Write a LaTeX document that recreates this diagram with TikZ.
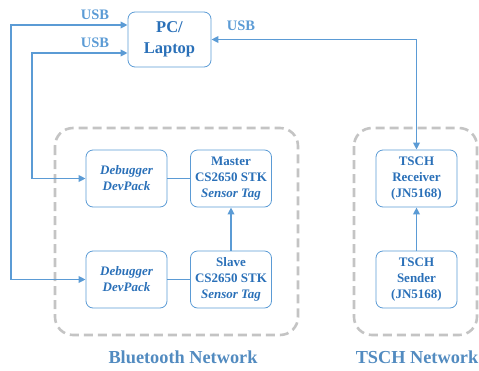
\documentclass[tikz,border=0pt]{standalone}
\usepackage{fontspec}
\setmainfont{Liberation Serif}
\usetikzlibrary{arrows.meta, positioning, calc}
\definecolor{lineblue}{HTML}{5B9BD5}
\definecolor{textblue}{HTML}{2A70B8}
\definecolor{dashgray}{HTML}{C4C4C4}

\tikzset{
  box/.style={draw=lineblue, line width=0.8pt, rounded corners=7pt, align=center,
    minimum width=81pt, minimum height=57pt, inner sep=1pt, text=textblue,
    font=\fontsize{13}{16}\selectfont\bfseries},
  link/.style={draw=lineblue, line width=1.8pt},
  usb/.style={link, {Triangle[length=7pt,width=6.5pt]}-{Triangle[length=7pt,width=6.5pt]}},
  uplink/.style={link, -{Triangle[length=7pt,width=6.5pt]}},
  usblbl/.style={text=lineblue, font=\fontsize{14.5}{16}\selectfont\bfseries},
  group/.style={draw=dashgray, line width=2.6pt, dash pattern=on 9pt off 5pt, rounded corners=18pt},
  netlbl/.style={text=lineblue!90!black, font=\fontsize{18.3}{20}\selectfont\bfseries}
}

\begin{document}
\begin{tikzpicture}[x=1pt, y=-1pt]
  \useasboundingbox (0,0) rectangle (479,370);

  % network areas
  \draw[group] (55,128) rectangle (298,335);
  \draw[group] (354,128) rectangle (477,335);
  \node[netlbl] (btnet) at (183,357) {Bluetooth Network};
  \node[netlbl] (tschnet) at (417,357) {TSCH Network};

  % boxes
  \node[box, minimum width=83pt, minimum height=55pt,
    font=\fontsize{16.5}{21}\selectfont\bfseries] (pc) at (169.5,39.5) {PC/\\Laptop};
  \node[box] (dbg1) at (126.5,178.5) {\itshape Debugger\\\itshape DevPack};
  \node[box] (master) at (231,178.5) {Master\\CS2650 STK\\\itshape Sensor Tag};
  \node[box] (dbg2) at (126.5,279.5) {\itshape Debugger\\\itshape DevPack};
  \node[box] (slave) at (231,279.5) {Slave\\CS2650 STK\\\itshape Sensor Tag};
  \node[box] (rx) at (416.5,178.5) {TSCH\\Receiver\\(JN5168)};
  \node[box] (tx) at (416.5,279.5) {TSCH\\Sender\\(JN5168)};

  % usb wiring
  \coordinate (busA) at (11,0);
  \coordinate (busB) at (32,0);
  \draw[usb] (dbg2.west) -- (dbg2.west -| busA) |- ($(pc.west)+(0,-14.5)$);
  \draw[usb] (dbg1.west) -- (dbg1.west -| busB) |- ($(pc.west)+(0,13.5)$);
  \draw[usb] (pc.east) -| (rx.north);
  \node[usblbl] (usb1) at (95,15) {USB};
  \node[usblbl] (usb2) at (95,43) {USB};
  \node[usblbl] (usb3) at (241,26) {USB};

  % links inside networks
  \draw[link] (dbg1) -- (master);
  \draw[link] (dbg2) -- (slave);
  \draw[uplink] (slave) -- (master);
  \draw[uplink] (tx) -- (rx);
\end{tikzpicture}
\end{document}
